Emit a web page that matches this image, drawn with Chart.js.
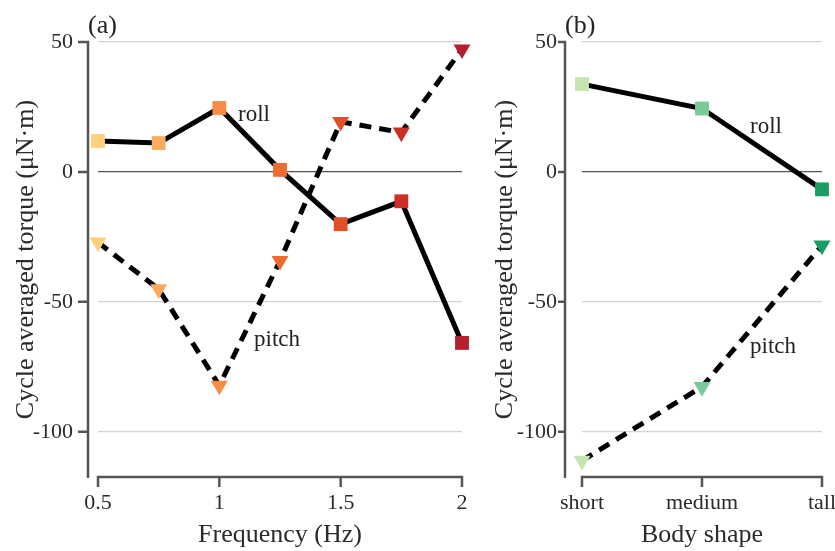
<!DOCTYPE html>
<html>
<head>
<meta charset="utf-8">
<script src="https://cdn.jsdelivr.net/npm/chart.js@4.4.1/dist/chart.umd.min.js"></script>
<style>
  html, body { margin: 0; padding: 0; background: #fff; }
  #wrap { position: relative; width: 835px; height: 551px; overflow: hidden; }
  #panelA { position: absolute; left: 0; top: 0; }
  #panelB { position: absolute; left: 480px; top: 0; }
</style>
</head>
<body>
<div id="wrap">
  <canvas id="panelA" width="480" height="551"></canvas>
  <canvas id="panelB" width="355" height="551"></canvas>
</div>
<script>
// Panel (a): torque against flapping frequency
const frequencies = [0.5, 0.75, 1, 1.25, 1.5, 1.75, 2];
const rollByFrequency = [11.9, 11.1, 24.6, 0.8, -20.1, -11.3, -65.8];
const pitchByFrequency = [-27.1, -45.1, -82.2, -34.2, 19.3, 15.2, 47.2];
const frequencyColors = ['#fdd07c', '#fbab5e', '#f78c44', '#ef6c31', '#e0512a', '#cb3027', '#b61f2c'];
const frequencyTicks = [0.5, 1, 1.5, 2];

// Panel (b): torque against body shape
const bodyShapes = ['short', 'medium', 'tall'];
const rollByShape = [33.8, 24.4, -6.7];
const pitchByShape = [-111.1, -82.7, -28.3];
const shapeColors = ['#c6e5b3', '#79c99b', '#1b9e64'];

// Shared torque axis
const torqueTicks = [-100, -50, 0, 50];
const torqueMin = -117.4;
const torqueMax = 50;

const SERIF = '"Liberation Serif", "Times New Roman", serif';
const TEXT = '#2b2b2b';
const AXIS = '#555';

// Offset axis lines, tick marks, panel letter and series notes
const axisFrame = {
  id: 'axisFrame',
  afterDraw(chart, args, opts) {
    const { ctx, chartArea: a, scales: { x, y } } = chart;
    ctx.save();
    ctx.strokeStyle = AXIS;
    ctx.lineWidth = 2.5;
    ctx.lineJoin = 'miter';
    ctx.lineCap = 'butt';

    // vertical axis, drawn a little left of the plot area
    const ax = a.left - opts.yGap;
    const yTop = y.getPixelForValue(torqueMax);
    ctx.beginPath();
    ctx.moveTo(ax - opts.yTickLen, yTop);
    ctx.lineTo(ax, yTop);
    ctx.lineTo(ax, a.bottom + 1);
    torqueTicks.filter(v => v !== torqueMax).forEach(v => {
      const py = y.getPixelForValue(v);
      ctx.moveTo(ax - opts.yTickLen, py);
      ctx.lineTo(ax, py);
    });
    ctx.stroke();

    // horizontal axis spanning the data range
    const xs = opts.xTickValues.map(v => x.getPixelForValue(v));
    const by = a.bottom;
    ctx.beginPath();
    ctx.moveTo(xs[0], by + opts.xTickLen);
    ctx.lineTo(xs[0], by);
    ctx.lineTo(xs[xs.length - 1], by);
    ctx.lineTo(xs[xs.length - 1], by + opts.xTickLen);
    xs.slice(1, -1).forEach(px => {
      ctx.moveTo(px, by);
      ctx.lineTo(px, by + opts.xTickLen);
    });
    ctx.stroke();

    // panel letter
    ctx.fillStyle = '#222';
    ctx.font = '26px ' + SERIF;
    ctx.textAlign = 'left';
    ctx.textBaseline = 'alphabetic';
    ctx.fillText(opts.panel, ax, 33);

    // series notes
    ctx.font = '23px ' + SERIF;
    ctx.textBaseline = 'middle';
    opts.notes.forEach(n => {
      ctx.fillText(n.text, x.getPixelForValue(n.x), y.getPixelForValue(n.y));
    });
    ctx.restore();
  }
};

function torqueAxis(width, titlePad) {
  return {
    type: 'linear',
    min: torqueMin,
    max: torqueMax,
    afterBuildTicks: s => { s.ticks = torqueTicks.map(v => ({ value: v })); },
    afterFit: s => {
      s.width = width;
      s.paddingTop = s.paddingBottom = s.paddingLeft = s.paddingRight = 0;
    },
    border: { display: false },
    grid: {
      drawTicks: false,
      lineWidth: 1.2,
      color: c => (c.tick && c.tick.value === 0 ? '#555' : '#d4d4d4')
    },
    ticks: {
      padding: 25,
      color: TEXT,
      font: { family: SERIF, size: 22 },
      callback: v => String(v)
    },
    title: {
      display: true,
      text: 'Cycle averaged torque (μN·m)',
      color: TEXT,
      font: { family: SERIF, size: 26 },
      padding: { top: titlePad, bottom: 0 }
    }
  };
}

function bottomAxisCommon(title) {
  return {
    afterFit: s => {
      s.height = 74;
      s.paddingTop = s.paddingBottom = s.paddingLeft = s.paddingRight = 0;
    },
    border: { display: false },
    grid: { display: false, drawTicks: false },
    ticks: {
      padding: 13,
      maxRotation: 0,
      autoSkip: false,
      color: TEXT,
      font: { family: SERIF, size: 22 }
    },
    title: {
      display: true,
      text: title,
      color: TEXT,
      font: { family: SERIF, size: 26 },
      padding: { top: 0, bottom: 0 }
    }
  };
}

function seriesSets(rollData, pitchData, colors) {
  return [
    {
      label: 'roll',
      data: rollData,
      clip: false,
      borderColor: '#000',
      borderWidth: 5,
      tension: 0,
      pointStyle: 'rect',
      pointRadius: 9.8,
      pointHoverRadius: 9.8,
      pointBorderWidth: 0,
      pointBackgroundColor: colors,
      pointBorderColor: colors
    },
    {
      label: 'pitch',
      data: pitchData,
      clip: false,
      borderColor: '#000',
      borderWidth: 5,
      borderDash: [12, 8],
      tension: 0,
      pointStyle: 'triangle',
      rotation: 180,
      pointRadius: 9.8,
      pointHoverRadius: 9.8,
      pointBorderWidth: 0,
      pointBackgroundColor: colors,
      pointBorderColor: colors
    }
  ];
}

const baseOptions = {
  responsive: false,
  animation: false,
  events: [],
  plugins: { legend: { display: false }, tooltip: { enabled: false } }
};

// (a) frequency sweep
const xyRoll = frequencies.map((f, i) => ({ x: f, y: rollByFrequency[i] }));
const xyPitch = frequencies.map((f, i) => ({ x: f, y: pitchByFrequency[i] }));

const freqAxis = Object.assign(bottomAxisCommon('Frequency (Hz)'), {
  type: 'linear',
  min: frequencies[0],
  max: frequencies[frequencies.length - 1],
  afterBuildTicks: s => { s.ticks = frequencyTicks.map(v => ({ value: v })); }
});
freqAxis.ticks.callback = v => String(v);

new Chart(document.getElementById('panelA'), {
  type: 'line',
  data: { datasets: seriesSets(xyRoll, xyPitch, frequencyColors) },
  options: Object.assign({}, baseOptions, {
    layout: { padding: { left: 0, top: 42, right: 18, bottom: 0 } },
    scales: { x: freqAxis, y: torqueAxis(98, 10.5) },
    plugins: Object.assign({}, baseOptions.plugins, {
      axisFrame: {
        panel: '(a)',
        yGap: 10,
        yTickLen: 10,
        xTickLen: 10,
        xTickValues: frequencyTicks,
        notes: [
          { text: 'roll', x: 1.077, y: 21.8 },
          { text: 'pitch', x: 1.143, y: -64.7 }
        ]
      }
    })
  }),
  plugins: [axisFrame]
});

// (b) body shape comparison
const shapeAxis = Object.assign(bottomAxisCommon('Body shape'), {
  type: 'category',
  offset: false
});

new Chart(document.getElementById('panelB'), {
  type: 'line',
  data: { labels: bodyShapes, datasets: seriesSets(rollByShape, pitchByShape, shapeColors) },
  options: Object.assign({}, baseOptions, {
    layout: { padding: { left: 0, top: 42, right: 13, bottom: 0 } },
    scales: { x: shapeAxis, y: torqueAxis(102, 9.5) },
    plugins: Object.assign({}, baseOptions.plugins, {
      axisFrame: {
        panel: '(b)',
        yGap: 17,
        yTickLen: 7,
        xTickLen: 10,
        xTickValues: [0, 1, 2],
        notes: [
          { text: 'roll', x: 1.4, y: 17.2 },
          { text: 'pitch', x: 1.4, y: -67.4 }
        ]
      }
    })
  }),
  plugins: [axisFrame]
});
</script>
</body>
</html>
